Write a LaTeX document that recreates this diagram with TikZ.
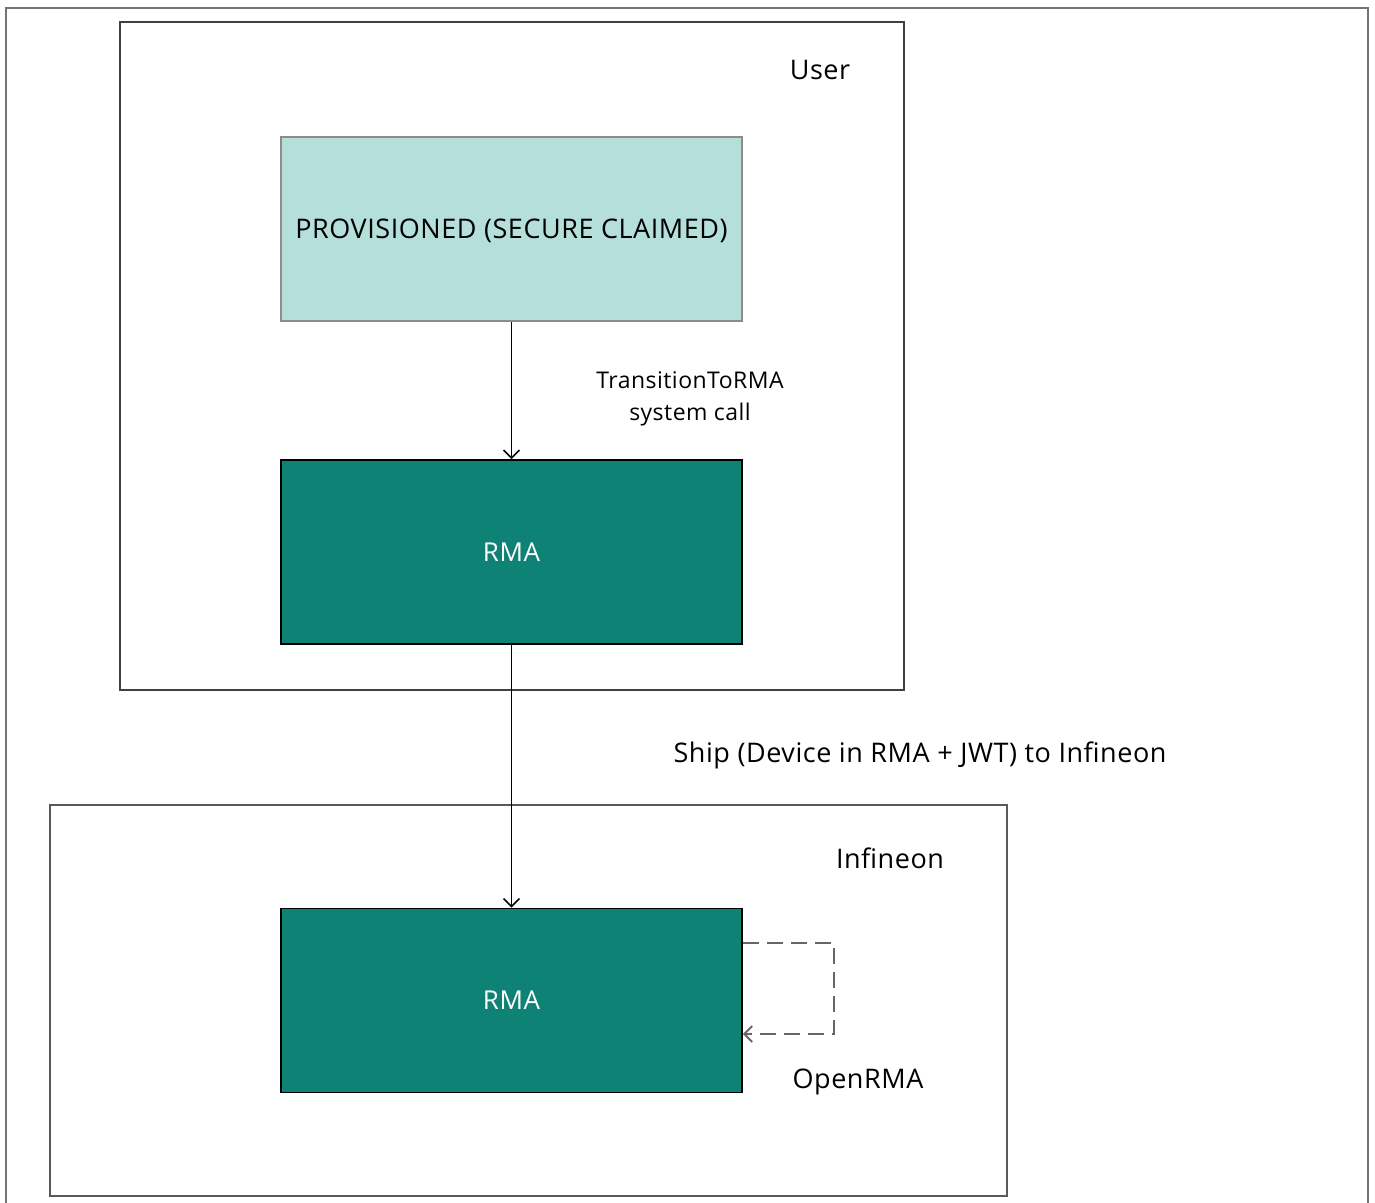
\documentclass[tikz,border=0pt]{standalone}
\usepackage{fontspec}
\setmainfont{Open Sans}[LetterSpace=2]
\usepackage{tikz}
\usetikzlibrary{arrows.meta,calc}
\definecolor{provfill}{HTML}{B4DFDA}
\definecolor{rmafill}{HTML}{0E8274}
\tikzstyle{arrow} = [line width=0.8pt,-{Straight Barb[length=4pt,width=8pt]}]

\begin{document}
\begin{tikzpicture}
[x=0.5pt,y=-0.5pt,
frame/.style={draw=black!75,line width=1pt},
provbox/.style={rectangle,draw=black!45,line width=0.8pt,fill=provfill,minimum width=230.5pt,minimum height=92pt,inner sep=0pt,text depth=0pt,font=\fontsize{13.5}{16}\selectfont},
rmabox/.style={rectangle,draw=black,line width=0.8pt,fill=rmafill,text=white,minimum width=230.5pt,minimum height=92pt,inner sep=0pt,font=\fontsize{13}{16}\selectfont},
lbl/.style={font=\fontsize{13.5}{16}\selectfont,inner sep=0pt},
small/.style={font=\fontsize{11.5}{16}\selectfont,align=center,inner sep=0pt}]
\useasboundingbox (0,0) rectangle (1375,1203);
% outer frame
\draw[draw=black!55,line width=1pt] (6,8) rectangle (1368,1220);
% user side
\draw[frame] (120,22) rectangle (904,690);
\node[lbl] (user) at (820,70) {User};
\node[provbox] (prov) at (511.5,229) {PROVISIONED (SECURE CLAIMED)};
\node[rmabox] (rma1) at (511.5,552) {RMA};
\draw[arrow] (prov) -- (rma1);
\node[small] (sys) at (690,399) {TransitionToRMA\\system call};
% infineon side
\draw[frame,draw=black!65] (50,805) rectangle (1007,1196);
\node[lbl] (infineon) at (890,858) {Infineon};
\node[rmabox] (rma2) at (511.5,1000.5) {RMA};
\draw[arrow] (rma1) -- (rma2);
\node[lbl] (ship) at (920,755) {Ship (Device in RMA + JWT) to Infineon};
\draw[arrow,draw=black!60,dashed,dash pattern=on 8pt off 4pt,line width=1pt] (rma2.east |- 0,943) -- (834,943) -- (834,1034) -- (rma2.east |- 0,1034);
\node[lbl] (open) at (858,1082) {OpenRMA};
\end{tikzpicture}
\end{document}
